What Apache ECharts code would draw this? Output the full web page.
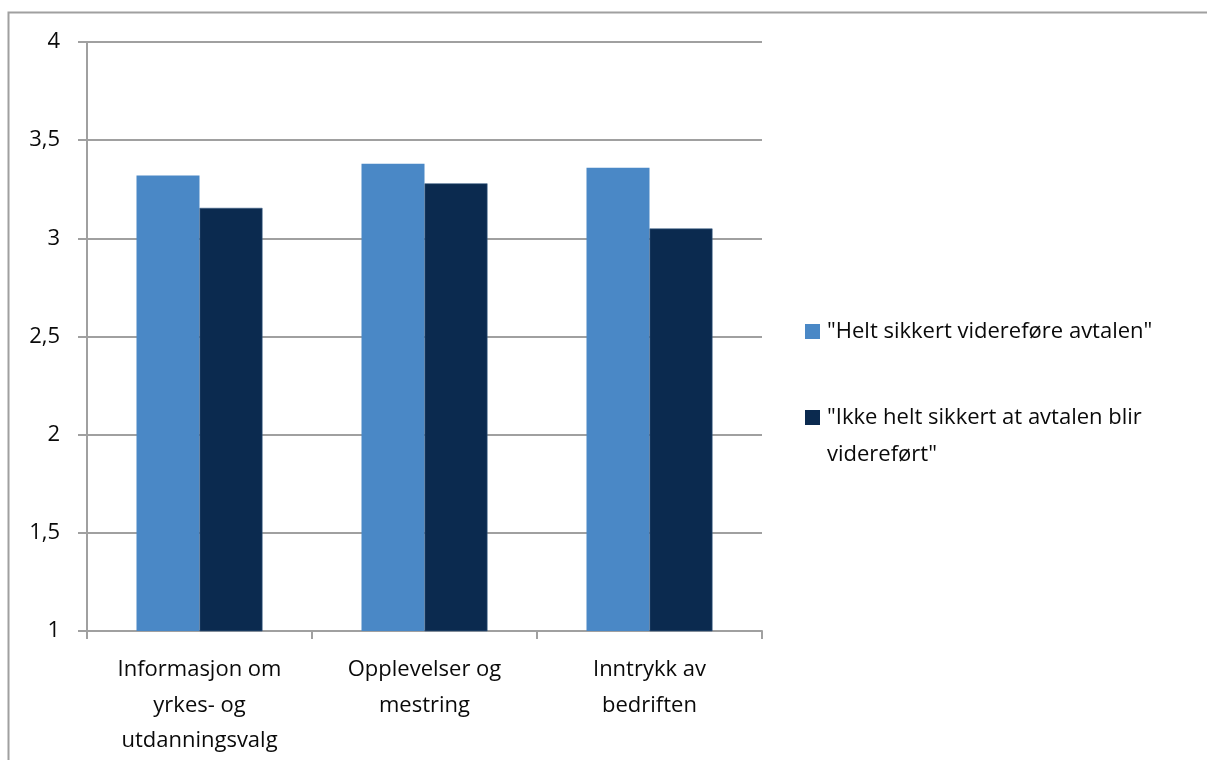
<!DOCTYPE html>
<html>
<head>
<meta charset="utf-8">
<script src="https://cdn.jsdelivr.net/npm/echarts@6/dist/echarts.min.js"></script>
<style>
  html, body { margin: 0; padding: 0; background: #fff; }
  #chart { width: 1208px; height: 760px; }
</style>
</head>
<body>
<div id="chart"></div>
<script>
// Categories and mean scores for the two groups
const categories = ['Informasjon om\nyrkes- og\nutdanningsvalg', 'Opplevelser og\nmestring', 'Inntrykk av\nbedriften'];
const seriesNames = ['"Helt sikkert videreføre avtalen"', '"Ikke helt sikkert at avtalen blir videreført"'];
const heltSikkert = [3.32, 3.38, 3.36];
const ikkeHeltSikkert = [3.155, 3.28, 3.05];
const yTicks = { min: 1, max: 4, interval: 0.5 };

const FONT = 'Open Sans';
const GRAY = '#a0a0a0';
const INK = '#0a0a0a';

const chart = echarts.init(document.getElementById('chart'), null, { renderer: 'canvas' });

const legendText = { fontFamily: FONT, fontSize: 22, color: INK, lineHeight: 37, padding: [0, 0, 0, 2] };

chart.setOption({
  animation: false,
  backgroundColor: '#fff',
  grid: { left: 87, right: 446, top: 42, bottom: 129, containLabel: false },
  legend: [
    {
      data: [seriesNames[0]],
      orient: 'vertical', left: 805, top: 313, padding: 0,
      itemWidth: 15, itemHeight: 15, itemGap: 0,
      icon: 'rect',
      itemStyle: { borderWidth: 0 },
      textStyle: legendText
    },
    {
      data: [seriesNames[1]],
      orient: 'vertical', left: 805, top: 399, padding: 0,
      // square sits at the top of a taller icon box so it lines up with the first text line
      itemWidth: 15, itemHeight: 52, itemGap: 0,
      icon: 'path://M0 0H15V15H0Z M0 52H15',
      itemStyle: { borderWidth: 0 },
      formatter: () => '"Ikke helt sikkert at avtalen blir\nvidereført"',
      textStyle: legendText
    }
  ],
  xAxis: {
    type: 'category',
    data: categories,
    axisLine: { show: true, lineStyle: { color: GRAY, width: 2 } },
    axisTick: { show: true, length: 8, lineStyle: { color: GRAY, width: 2 } },
    axisLabel: {
      interval: 0, margin: 21,
      fontFamily: FONT, fontSize: 22, color: INK, lineHeight: 35.5
    },
    splitLine: { show: false }
  },
  yAxis: {
    type: 'value',
    min: yTicks.min, max: yTicks.max, interval: yTicks.interval,
    axisLine: { show: true, lineStyle: { color: GRAY, width: 2 } },
    axisTick: { show: true, length: 9, lineStyle: { color: GRAY, width: 2 } },
    axisLabel: {
      margin: 27, fontFamily: FONT, fontSize: 22, color: INK,
      formatter: v => String(v).replace('.', ',')
    },
    splitLine: { show: true, lineStyle: { color: GRAY, width: 2 } }
  },
  series: [
    {
      name: seriesNames[0], type: 'bar', data: heltSikkert,
      barWidth: 63, barGap: '0%',
      itemStyle: { color: '#4a88c6' }
    },
    {
      name: seriesNames[1], type: 'bar', data: ikkeHeltSikkert,
      barWidth: 63, barGap: '0%',
      itemStyle: { color: '#0b2a4f', borderColor: '#3d5f86', borderWidth: 0.6 }
    }
  ],
  graphic: [
    {
      type: 'polyline', silent: true,
      shape: { points: [[8.5, 800], [8.5, 12.5], [1207, 12.5]] },
      style: { stroke: GRAY, lineWidth: 2, fill: null }
    }
  ]
});
</script>
</body>
</html>
